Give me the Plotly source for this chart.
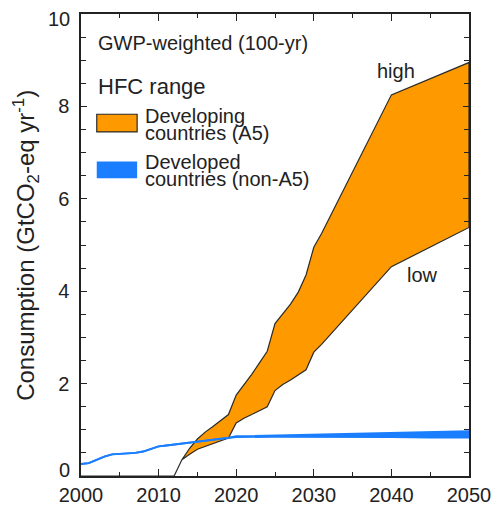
import plotly.graph_objects as go

# ---- data ----
dev_high_years = [2000, 2012, 2013, 2014, 2015, 2016, 2017, 2018, 2019, 2020, 2021, 2022, 2023, 2024,
                  2025, 2026, 2027, 2028, 2029, 2030, 2031, 2040, 2050]
dev_high = [0, 0, 0.35, 0.6, 0.8, 0.95, 1.07, 1.2, 1.33, 1.75, 1.97, 2.2, 2.45, 2.7,
            3.3, 3.5, 3.72, 3.98, 4.35, 4.95, 5.25, 8.25, 8.95]
dev_low_years = [2000, 2012, 2013, 2014, 2015, 2016, 2017, 2018, 2019, 2020, 2021, 2022, 2023, 2024,
                 2025, 2026, 2027, 2028, 2029, 2030, 2031, 2040, 2050]
dev_low = [0, 0, 0.35, 0.47, 0.58, 0.64, 0.7, 0.76, 0.82, 1.15, 1.25, 1.33, 1.41, 1.5,
           1.85, 1.98, 2.08, 2.18, 2.3, 2.68, 2.85, 4.53, 5.38]

nonA5_years = [2000, 2001, 2002, 2003, 2004, 2005, 2006, 2007, 2008, 2009, 2010, 2011, 2012,
               2013, 2014, 2015, 2016, 2017, 2018, 2019, 2020, 2025, 2030, 2035, 2040, 2045, 2050]
nonA5_low = [0.26, 0.28, 0.35, 0.42, 0.47, 0.48, 0.49, 0.5, 0.53, 0.58, 0.64, 0.66, 0.68,
             0.71, 0.73, 0.75, 0.77, 0.79, 0.81, 0.83, 0.84, 0.85, 0.85, 0.84, 0.84, 0.83, 0.83]
nonA5_high = [0.26, 0.28, 0.35, 0.42, 0.47, 0.48, 0.49, 0.5, 0.53, 0.58, 0.64, 0.66, 0.68,
              0.71, 0.73, 0.75, 0.77, 0.79, 0.81, 0.83, 0.86, 0.88, 0.9, 0.92, 0.94, 0.96, 0.97]

x_ticks = [2000, 2010, 2020, 2030, 2040, 2050]
y_ticks = [0, 2, 4, 6, 8, 10]
y_tick_text = ["", "2", "4", "6", "8", ""]   # 0 and 10 are placed as nudged labels below

ORANGE = "#FF9900"
BLUE = "#1A7EFF"
TXT = "#222222"
FONT = "Liberation Sans, Arial, sans-serif"

fig = go.Figure()

# Developing countries (A5) range polygon
fig.add_trace(go.Scatter(
    x=dev_high_years + dev_low_years[::-1],
    y=dev_high + dev_low[::-1],
    fill="toself", fillcolor=ORANGE, mode="lines",
    line=dict(color="#2a2a2a", width=1.2), hoverinfo="skip", showlegend=False))

# Developed countries (non-A5) range
fig.add_trace(go.Scatter(x=nonA5_years, y=nonA5_low, mode="lines",
                         line=dict(color=BLUE, width=1.8), showlegend=False))
fig.add_trace(go.Scatter(x=nonA5_years, y=nonA5_high, mode="lines", fill="tonexty",
                         fillcolor=BLUE, line=dict(color=BLUE, width=1.8), showlegend=False))

axis_common = dict(showline=True, linecolor=TXT, linewidth=1.5, mirror="allticks",
                   ticks="inside", tickcolor=TXT, showgrid=False, zeroline=False,
                   tickfont=dict(family=FONT, size=20, color=TXT))

fig.update_xaxes(range=[2000, 2050], tickvals=x_ticks, ticklen=7, tickwidth=1.3,
                 minor=dict(dtick=5, ticklen=4, ticks="inside", tickcolor=TXT, tickwidth=1.3),
                 **axis_common)
fig.update_yaxes(range=[0, 10], tickvals=y_ticks, ticktext=y_tick_text, ticklen=6, tickwidth=1.3,
                 ticklabelstandoff=6,
                 minor=dict(dtick=0.5, ticklen=5, ticks="inside", tickcolor=TXT, tickwidth=1.3),
                 **axis_common)

def px_x(p):
    return (p - 81) / 394.0

def px_y(p):
    return (483 - p) / 470.0

shapes = [
    dict(type="rect", xref="paper", yref="paper", x0=px_x(97), x1=px_x(138), y0=px_y(133), y1=px_y(115),
         fillcolor=ORANGE, line=dict(color="#2a2a2a", width=1.2)),
    dict(type="rect", xref="paper", yref="paper", x0=px_x(97), x1=px_x(138), y0=px_y(180), y1=px_y(163),
         fillcolor=BLUE, line=dict(color=BLUE, width=0)),
]

def txt(text, x, y, size=20, xref="paper", yref="paper", xanchor="left", yshift=0):
    return dict(text=text, x=x, y=y, xref=xref, yref=yref, xanchor=xanchor, yanchor="middle",
                showarrow=False, yshift=yshift, font=dict(family=FONT, size=size, color=TXT))

annotations = [
    txt("GWP-weighted (100-yr)", px_x(96), px_y(42), 20),
    txt("HFC range", px_x(96), px_y(87), 22),
    txt("Developing", px_x(144), px_y(117)),
    txt("countries (A5)", px_x(144), px_y(134)),
    txt("Developed", px_x(144), px_y(164)),
    txt("countries (non-A5)", px_x(144), px_y(181)),
    txt("high", 2040.6, 8.77, 20, "x", "y", "center"),
    txt("low", 2044.0, 4.36, 20, "x", "y", "center"),
    # end labels of the y axis, nudged inward as in the reference
    txt(str(y_ticks[0]), px_x(72), y_ticks[0], 20, "paper", "y", "right", yshift=6),
    txt(str(y_ticks[-1]), px_x(72), y_ticks[-1], 20, "paper", "y", "right", yshift=-5),
    dict(text="Consumption (GtCO<sub>2</sub>-eq yr<sup>-1</sup>)", x=px_x(25), y=0.5,
         xref="paper", yref="paper", xanchor="center", yanchor="middle", textangle=-90,
         showarrow=False, font=dict(family=FONT, size=24, color=TXT)),
]

fig.update_layout(width=503, height=518, margin=dict(l=81, r=28, t=13, b=35),
                  paper_bgcolor="white", plot_bgcolor="white",
                  shapes=shapes, annotations=annotations, showlegend=False)

fig.write_html("out.html")
